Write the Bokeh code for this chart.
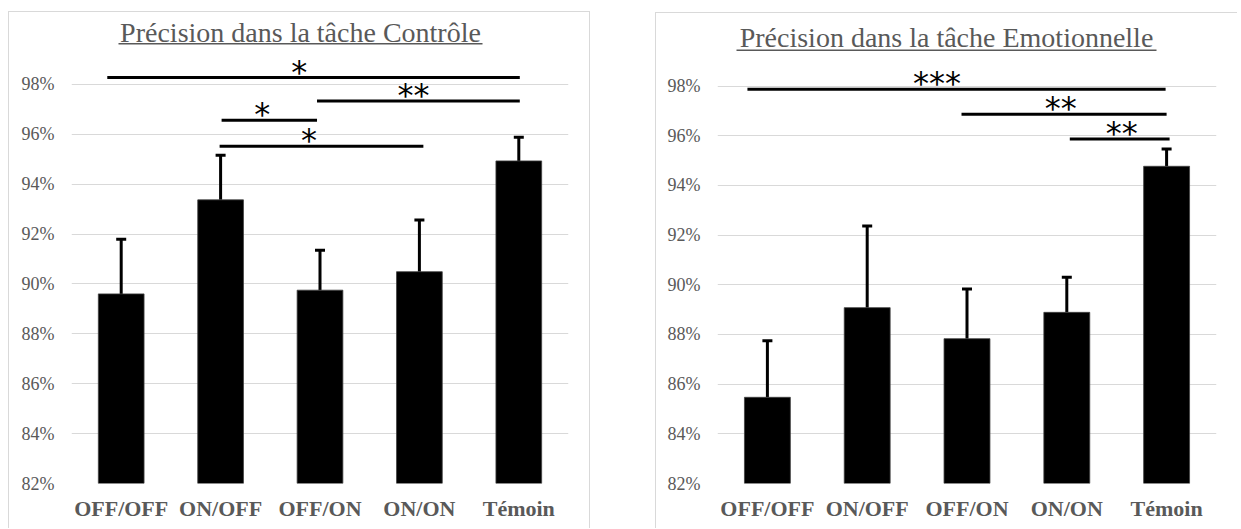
from bokeh.plotting import figure
from bokeh.models import (ColumnDataSource, Range1d, FactorRange, FixedTicker, PrintfTickFormatter,
                          Whisker, TeeHead, BoxAnnotation, Label)
from bokeh.layouts import row
from bokeh.core.properties import value
from bokeh.embed import file_html
from bokeh.resources import INLINE

categories = ["OFF/OFF", "ON/OFF", "OFF/ON", "ON/ON", "Témoin"]

ctrl_mean = [89.60, 93.37, 89.75, 90.49, 94.93]
ctrl_err = [2.19, 1.79, 1.60, 2.07, 0.95]
emo_mean = [85.47, 89.08, 87.83, 88.89, 94.77]
emo_err = [2.28, 3.29, 2.00, 1.41, 0.70]

y_ticks = [82, 84, 86, 88, 90, 92, 94, 96, 98]

ctrl_sig_start = [0.36, 2.47, 1.51, 1.49]
ctrl_sig_end = [4.51, 4.51, 2.47, 3.54]
ctrl_sig_level = [98.27, 97.33, 96.56, 95.52]
ctrl_sig_label = ["*", "**", "*", "*"]
ctrl_sig_label_x = [2.29, 3.44, 1.92, 2.39]

emo_sig_start = [0.30, 2.445, 3.53]
emo_sig_end = [4.49, 4.50, 4.53]
emo_sig_level = [97.87, 96.87, 95.87]
emo_sig_label = ["***", "**", "**"]
emo_sig_label_x = [2.20, 3.44, 4.05]

titles = ["Précision dans la tâche Contrôle", "Précision dans la tâche Emotionnelle"]

GRAY = "#595959"
SERIF = "Liberation Serif"


def make_panel(title, means, errs, s0, s1, lvl, lab, labx, width, height, left, right, bottom,
               y_end, title_y, ul_left, ul_right, ul_y, margin, styles):
    p = figure(x_range=FactorRange(*categories, range_padding=0), y_range=Range1d(82, y_end),
               width=width, height=height, output_backend="svg", toolbar_location=None,
               min_border_left=left, min_border_right=right, min_border_top=0,
               min_border_bottom=bottom, margin=margin, styles=styles)
    p.outline_line_color = None
    p.background_fill_color = "white"
    p.border_fill_color = "white"

    src = ColumnDataSource(dict(cat=categories, val=means,
                                up=[m + e for m, e in zip(means, errs)]))
    p.vbar(x="cat", top="val", bottom=82, width=0.46, source=src,
           fill_color="black", line_color="#404040", line_width=0.8)
    wh = Whisker(source=src, base="cat", lower="val", upper="up", dimension="height",
                 line_color="black", line_width=3, lower_head=None,
                 upper_head=TeeHead(size=10, line_width=3, line_color="black"))
    p.add_layout(wh)

    p.segment(x0=s0, x1=s1, y0=lvl, y1=lvl, line_color="black", line_width=3)
    p.text(x=labx, y=lvl, text=lab, text_font=value("DejaVu Sans"), text_font_size="32px",
           text_align="center", text_baseline="alphabetic", y_offset=-6, text_color="black")

    p.ygrid.ticker = FixedTicker(ticks=y_ticks)
    p.ygrid.grid_line_color = "#d9d9d9"
    p.ygrid.grid_line_width = 1
    p.xgrid.visible = False

    p.yaxis.ticker = FixedTicker(ticks=y_ticks)
    p.yaxis.formatter = PrintfTickFormatter(format="%d%%")
    p.yaxis.axis_line_color = None
    p.yaxis.major_tick_line_color = None
    p.yaxis.minor_tick_line_color = None
    p.yaxis.major_tick_out = 0
    p.yaxis.major_label_standoff = 17
    p.yaxis.major_label_text_font = SERIF
    p.yaxis.major_label_text_font_size = "18px"
    p.yaxis.major_label_text_color = GRAY

    p.xaxis.axis_line_color = None
    p.xaxis.major_tick_line_color = None
    p.xaxis.major_tick_out = 0
    p.xaxis.major_label_standoff = 12
    p.xaxis.major_label_text_font = SERIF
    p.xaxis.major_label_text_font_style = "bold"
    p.xaxis.major_label_text_font_size = "22px"
    p.xaxis.major_label_text_color = GRAY

    p.add_layout(Label(x=(ul_left + ul_right) / 2, y=title_y, x_units="canvas", y_units="canvas",
                       text=title, text_align="center", text_baseline="alphabetic",
                       text_font=SERIF, text_font_size="28px", text_color=GRAY))
    p.add_layout(BoxAnnotation(left=ul_left, right=ul_right, top=ul_y, bottom=ul_y + 1.5,
                               left_units="canvas", right_units="canvas",
                               top_units="canvas", bottom_units="canvas",
                               fill_color=GRAY, fill_alpha=1, line_color=None))
    return p


BORDER = "1px solid #d9d9d9"
p1 = make_panel(titles[0], ctrl_mean, ctrl_err, ctrl_sig_start, ctrl_sig_end, ctrl_sig_level,
                ctrl_sig_label, ctrl_sig_label_x, 582, 517, 62, 23, 45, 82 + 472 / 25.0,
                19, 108, 472, 29.5, (11, 0, 0, 8),
                {"border-top": BORDER, "border-left": BORDER, "border-right": BORDER})
p2 = make_panel(titles[1], emo_mean, emo_err, emo_sig_start, emo_sig_end, emo_sig_level,
                emo_sig_label, emo_sig_label_x, 582, 516, 61, 22, 46, 82 + 470 / 24.84,
                23, 79, 499, 35, (12, 0, 0, 65),
                {"border-top": BORDER, "border-left": BORDER})

layout = row(p1, p2)
open("out.html", "w").write(file_html(layout, INLINE))
